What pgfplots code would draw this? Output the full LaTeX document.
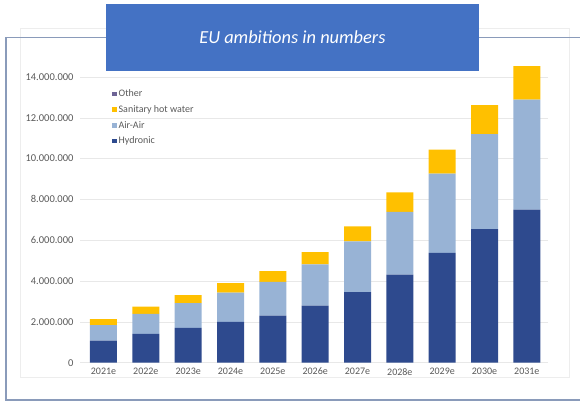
\documentclass[border=0pt]{standalone}
\usepackage{pgfplots}
\pgfplotsset{compat=1.18}
\usepackage{fontspec}
\setmainfont{Carlito}
\definecolor{hydro}{HTML}{2E4A8E}
\definecolor{airair}{HTML}{98B3D5}
\definecolor{shw}{HTML}{FFC000}
\definecolor{other}{HTML}{6E6496}
\definecolor{titlebox}{HTML}{4472C4}
\definecolor{frame}{HTML}{8A9BBA}
\definecolor{ticktxt}{HTML}{595959}
\begin{document}
\begin{tikzpicture}
\useasboundingbox (0,0) rectangle (580pt,402pt);
% chart area faint border
\draw[draw=black!7, line width=0.6pt] (20pt,25pt) rectangle (569pt,374pt);
% slide frame
\draw[frame, line width=1.3pt] (106pt,364.5pt) -- (6pt,364.5pt) -- (6pt,2pt) -- (580pt,2pt);
\draw[frame, line width=1.3pt] (479pt,364.5pt) -- (580pt,364.5pt);
\begin{axis}[
  at={(80pt,39.3pt)}, anchor=south west,
  scale only axis, width=468pt, height=285.7pt,
  ybar stacked, bar width=27pt,
  xmin=-0.555, xmax=10.5, ymin=0, ymax=14000000,
  clip=false,
  axis line style={draw=none},
  major tick length=0pt,
  ymajorgrids, grid style={draw=black!9, line width=0.6pt},
  ytick={0,2000000,4000000,6000000,8000000,10000000,12000000,14000000},
  scaled y ticks=false,
  yticklabel style={/pgf/number format/fixed, /pgf/number format/precision=0, /pgf/number format/1000 sep={.}, /pgf/number format/assume math mode=true},
  yticklabel style={font=\fontsize{10.5}{12}\selectfont, text=ticktxt, xshift=-3pt},
  xtick={0,1,2,3,4,5,6,7,8,9,10},
  xticklabels={2021e,2022e,2023e,2024e,2025e,2026e,2027e,2028e,2029e,2030e,2031e},
  xticklabel style={font=\fontsize{10}{12}\selectfont, text=ticktxt, yshift=-2pt},
  reverse legend,
  legend cell align=left,
  legend style={at={(0.0685,0.964)}, anchor=north west, draw=none, fill=none,
    font=\fontsize{10}{12}\selectfont, text=ticktxt,
    row sep=3.4pt, inner sep=0pt},
  legend image code/.code={\fill[#1] (-3pt,-2.2pt) rectangle (1.4pt,2.2pt);},
]
\addplot[fill=hydro, draw=none] coordinates {(0,1080000) (1,1410000) (2,1710000) (3,2000000) (4,2310000) (5,2800000) (6,3460000) (7,4320000) (8,5380000) (9,6540000) (10,7500000)};
\addlegendentry{Hydronic}
\addplot[fill=airair, draw=none] coordinates {(0,760000) (1,980000) (2,1210000) (3,1440000) (4,1650000) (5,2020000) (6,2490000) (7,3070000) (8,3880000) (9,4660000) (10,5390000)};
\addlegendentry{Air-Air}
\addplot[fill=shw, draw=none] coordinates {(0,290000) (1,360000) (2,390000) (3,460000) (4,530000) (5,600000) (6,730000) (7,960000) (8,1180000) (9,1420000) (10,1640000)};
\addlegendentry{Sanitary hot water}
\addplot[fill=other, draw=none] coordinates {(0,0) (1,0) (2,0) (3,0) (4,0) (5,0) (6,0) (7,0) (8,0) (9,0) (10,0)};
\addlegendentry{Other}
\end{axis}
% title box
\fill[titlebox] (105.7pt,331pt) rectangle (479pt,398pt);
\node[text=white, font=\fontsize{18.4}{22}\selectfont\itshape] at (292.4pt,364.5pt) {EU ambitions in numbers};
\end{tikzpicture}
\end{document}
